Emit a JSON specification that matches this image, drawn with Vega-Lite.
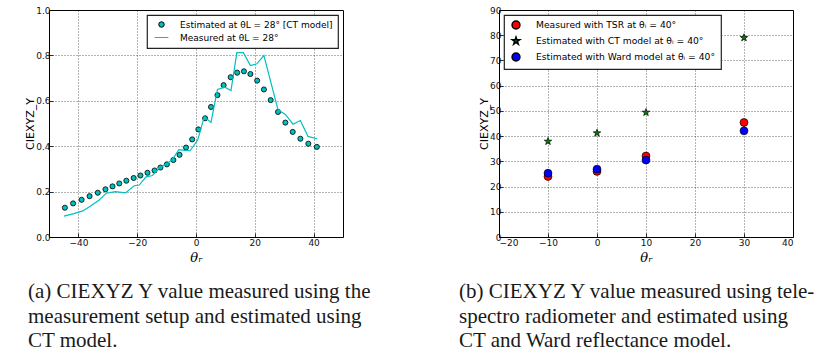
{
  "$schema": "https://vega.github.io/schema/vega-lite/v6.json",
  "padding": {"left": 24, "top": 5, "right": 0, "bottom": 0},
  "background": "white",
  "config": {
    "view": {"stroke": "#000", "strokeWidth": 1},
    "axis": {
      "domain": false,
      "grid": true,
      "gridColor": "#000",
      "gridDash": [1, 2],
      "gridWidth": 0.7,
      "gridOpacity": 0.85,
      "tickColor": "#000",
      "tickSize": -4,
      "tickWidth": 0.8,
      "labelFont": "DejaVu Sans",
      "labelFontSize": 9,
      "labelColor": "#111",
      "titleFont": "DejaVu Sans",
      "titleFontWeight": "normal",
      "titleColor": "#000"
    },
    "axisX": {"labelPadding": 5, "titleFont": "DejaVu Serif", "titleFontStyle": "italic", "titleFontSize": 13, "titlePadding": 4},
    "axisY": {"labelPadding": 3, "titleFontSize": 11, "titlePadding": 0},
    "legend": {
      "title": null,
      "strokeColor": "#222",
      "strokeWidth": 1.2,
      "fillColor": "#fff",
      "padding": 5,
      "cornerRadius": 0,
      "offset": 5,
      "labelFont": "DejaVu Sans",
      "labelFontSize": 9,
      "labelColor": "#000",
      "labelLimit": 400,
      "rowPadding": 3
    },
    "title": {
      "font": "Liberation Serif",
      "fontSize": 21,
      "fontWeight": "normal",
      "color": "#1a1a1a",
      "lineHeight": 24.5,
      "orient": "bottom",
      "anchor": "start",
      "frame": "group",
      "dx": -21,
      "offset": 17
    }
  },
  "datasets": {
    "estimated_ct": [
      {"theta_r": -44.6, "Y": 0.129, "series": "Estimated at θL = 28° [CT model]"},
      {"theta_r": -41.8, "Y": 0.148, "series": "Estimated at θL = 28° [CT model]"},
      {"theta_r": -38.9, "Y": 0.164, "series": "Estimated at θL = 28° [CT model]"},
      {"theta_r": -36.2, "Y": 0.180, "series": "Estimated at θL = 28° [CT model]"},
      {"theta_r": -33.4, "Y": 0.195, "series": "Estimated at θL = 28° [CT model]"},
      {"theta_r": -30.8, "Y": 0.210, "series": "Estimated at θL = 28° [CT model]"},
      {"theta_r": -28.4, "Y": 0.223, "series": "Estimated at θL = 28° [CT model]"},
      {"theta_r": -26.1, "Y": 0.236, "series": "Estimated at θL = 28° [CT model]"},
      {"theta_r": -23.7, "Y": 0.248, "series": "Estimated at θL = 28° [CT model]"},
      {"theta_r": -21.2, "Y": 0.260, "series": "Estimated at θL = 28° [CT model]"},
      {"theta_r": -18.9, "Y": 0.271, "series": "Estimated at θL = 28° [CT model]"},
      {"theta_r": -16.5, "Y": 0.283, "series": "Estimated at θL = 28° [CT model]"},
      {"theta_r": -14.1, "Y": 0.293, "series": "Estimated at θL = 28° [CT model]"},
      {"theta_r": -12.1, "Y": 0.306, "series": "Estimated at θL = 28° [CT model]"},
      {"theta_r": -9.9, "Y": 0.320, "series": "Estimated at θL = 28° [CT model]"},
      {"theta_r": -7.7, "Y": 0.339, "series": "Estimated at θL = 28° [CT model]"},
      {"theta_r": -5.6, "Y": 0.362, "series": "Estimated at θL = 28° [CT model]"},
      {"theta_r": -3.4, "Y": 0.394, "series": "Estimated at θL = 28° [CT model]"},
      {"theta_r": -1.3, "Y": 0.430, "series": "Estimated at θL = 28° [CT model]"},
      {"theta_r": 0.8, "Y": 0.474, "series": "Estimated at θL = 28° [CT model]"},
      {"theta_r": 3.1, "Y": 0.523, "series": "Estimated at θL = 28° [CT model]"},
      {"theta_r": 5.1, "Y": 0.573, "series": "Estimated at θL = 28° [CT model]"},
      {"theta_r": 7.3, "Y": 0.625, "series": "Estimated at θL = 28° [CT model]"},
      {"theta_r": 9.4, "Y": 0.669, "series": "Estimated at θL = 28° [CT model]"},
      {"theta_r": 11.8, "Y": 0.704, "series": "Estimated at θL = 28° [CT model]"},
      {"theta_r": 14.0, "Y": 0.724, "series": "Estimated at θL = 28° [CT model]"},
      {"theta_r": 16.3, "Y": 0.730, "series": "Estimated at θL = 28° [CT model]"},
      {"theta_r": 18.5, "Y": 0.718, "series": "Estimated at θL = 28° [CT model]"},
      {"theta_r": 20.8, "Y": 0.689, "series": "Estimated at θL = 28° [CT model]"},
      {"theta_r": 23.1, "Y": 0.650, "series": "Estimated at θL = 28° [CT model]"},
      {"theta_r": 25.4, "Y": 0.603, "series": "Estimated at θL = 28° [CT model]"},
      {"theta_r": 27.9, "Y": 0.551, "series": "Estimated at θL = 28° [CT model]"},
      {"theta_r": 30.4, "Y": 0.504, "series": "Estimated at θL = 28° [CT model]"},
      {"theta_r": 32.9, "Y": 0.463, "series": "Estimated at θL = 28° [CT model]"},
      {"theta_r": 35.5, "Y": 0.433, "series": "Estimated at θL = 28° [CT model]"},
      {"theta_r": 38.2, "Y": 0.411, "series": "Estimated at θL = 28° [CT model]"},
      {"theta_r": 41.1, "Y": 0.397, "series": "Estimated at θL = 28° [CT model]"}
    ],
    "measured_setup": [
      {"theta_r": -44.9, "Y": 0.092, "series": "Measured at θL = 28°"},
      {"theta_r": -41.5, "Y": 0.103, "series": "Measured at θL = 28°"},
      {"theta_r": -38.5, "Y": 0.115, "series": "Measured at θL = 28°"},
      {"theta_r": -36.0, "Y": 0.135, "series": "Measured at θL = 28°"},
      {"theta_r": -33.0, "Y": 0.162, "series": "Measured at θL = 28°"},
      {"theta_r": -30.5, "Y": 0.193, "series": "Measured at θL = 28°"},
      {"theta_r": -27.5, "Y": 0.200, "series": "Measured at θL = 28°"},
      {"theta_r": -24.0, "Y": 0.194, "series": "Measured at θL = 28°"},
      {"theta_r": -21.0, "Y": 0.226, "series": "Measured at θL = 28°"},
      {"theta_r": -19.3, "Y": 0.229, "series": "Measured at θL = 28°"},
      {"theta_r": -17.0, "Y": 0.265, "series": "Measured at θL = 28°"},
      {"theta_r": -14.8, "Y": 0.271, "series": "Measured at θL = 28°"},
      {"theta_r": -12.5, "Y": 0.305, "series": "Measured at θL = 28°"},
      {"theta_r": -10.2, "Y": 0.320, "series": "Measured at θL = 28°"},
      {"theta_r": -8.0, "Y": 0.342, "series": "Measured at θL = 28°"},
      {"theta_r": -5.8, "Y": 0.385, "series": "Measured at θL = 28°"},
      {"theta_r": -4.0, "Y": 0.382, "series": "Measured at θL = 28°"},
      {"theta_r": -2.0, "Y": 0.380, "series": "Measured at θL = 28°"},
      {"theta_r": 0.6, "Y": 0.428, "series": "Measured at θL = 28°"},
      {"theta_r": 2.8, "Y": 0.530, "series": "Measured at θL = 28°"},
      {"theta_r": 5.1, "Y": 0.505, "series": "Measured at θL = 28°"},
      {"theta_r": 7.3, "Y": 0.650, "series": "Measured at θL = 28°"},
      {"theta_r": 9.8, "Y": 0.660, "series": "Measured at θL = 28°"},
      {"theta_r": 11.9, "Y": 0.645, "series": "Measured at θL = 28°"},
      {"theta_r": 13.9, "Y": 0.812, "series": "Measured at θL = 28°"},
      {"theta_r": 16.1, "Y": 0.812, "series": "Measured at θL = 28°"},
      {"theta_r": 18.5, "Y": 0.755, "series": "Measured at θL = 28°"},
      {"theta_r": 20.7, "Y": 0.763, "series": "Measured at θL = 28°"},
      {"theta_r": 23.1, "Y": 0.799, "series": "Measured at θL = 28°"},
      {"theta_r": 27.9, "Y": 0.560, "series": "Measured at θL = 28°"},
      {"theta_r": 30.4, "Y": 0.540, "series": "Measured at θL = 28°"},
      {"theta_r": 33.0, "Y": 0.497, "series": "Measured at θL = 28°"},
      {"theta_r": 35.5, "Y": 0.513, "series": "Measured at θL = 28°"},
      {"theta_r": 38.1, "Y": 0.443, "series": "Measured at θL = 28°"},
      {"theta_r": 41.2, "Y": 0.433, "series": "Measured at θL = 28°"}
    ],
    "tsr_models": [
      {"theta_r": -10, "Y": 24.0, "series": "Measured with TSR at θᵢ = 40°"},
      {"theta_r": 0, "Y": 26.0, "series": "Measured with TSR at θᵢ = 40°"},
      {"theta_r": 10, "Y": 32.1, "series": "Measured with TSR at θᵢ = 40°"},
      {"theta_r": 30, "Y": 45.4, "series": "Measured with TSR at θᵢ = 40°"},
      {"theta_r": -10, "Y": 37.9, "series": "Estimated with CT model at θᵢ = 40°"},
      {"theta_r": 0, "Y": 41.2, "series": "Estimated with CT model at θᵢ = 40°"},
      {"theta_r": 10, "Y": 49.4, "series": "Estimated with CT model at θᵢ = 40°"},
      {"theta_r": 30, "Y": 79.0, "series": "Estimated with CT model at θᵢ = 40°"},
      {"theta_r": -10, "Y": 25.3, "series": "Estimated with Ward model at θᵢ = 40°"},
      {"theta_r": 0, "Y": 26.9, "series": "Estimated with Ward model at θᵢ = 40°"},
      {"theta_r": 10, "Y": 30.5, "series": "Estimated with Ward model at θᵢ = 40°"},
      {"theta_r": 30, "Y": 42.1, "series": "Estimated with Ward model at θᵢ = 40°"}
    ]
  },
  "spacing": 85,
  "resolve": {"scale": {"color": "independent", "shape": "independent", "fill": "independent", "stroke": "independent"}, "legend": {"color": "independent", "shape": "independent", "fill": "independent", "stroke": "independent"}},
  "hconcat": [
    {
      "width": 294,
      "height": 227,
      "title": {"text": ["(a) CIEXYZ Y value measured using the", "measurement setup and estimated using", "CT model."]},
      "layer": [
        {
          "data": {"name": "estimated_ct"},
          "mark": {"type": "point", "filled": true, "opacity": 1, "size": 26, "strokeWidth": 0.8},
          "encoding": {
            "x": {"field": "theta_r", "type": "quantitative", "scale": {"domain": [-50, 50], "nice": false}, "axis": {"values": [-40, -20, 0, 20, 40], "format": "d", "title": "θᵣ"}},
            "y": {"field": "Y", "type": "quantitative", "scale": {"domain": [0, 1], "nice": false}, "axis": {"values": [0, 0.2, 0.4, 0.6, 0.8, 1.0], "format": ".1f", "title": "CIEXYZ_Y"}},
            "fill": {"field": "series", "type": "nominal", "scale": {"domain": ["Estimated at θL = 28° [CT model]", "Measured at θL = 28°"], "range": ["#00bfbf", "transparent"]}, "legend": {"orient": "top-right", "symbolSize": 30, "labelOffset": 14, "symbolOffset": 5, "symbolStrokeWidth": 1}},
            "stroke": {"field": "series", "type": "nominal", "scale": {"domain": ["Estimated at θL = 28° [CT model]", "Measured at θL = 28°"], "range": ["#000000", "#00bfbf"]}, "legend": {"orient": "top-right", "symbolSize": 30, "labelOffset": 14, "symbolOffset": 5, "symbolStrokeWidth": 1}},
            "shape": {"field": "series", "type": "nominal", "scale": {"domain": ["Estimated at θL = 28° [CT model]", "Measured at θL = 28°"], "range": ["circle", "M-2.5,0L2.5,0"]}, "legend": {"orient": "top-right", "symbolSize": 30, "labelOffset": 14, "symbolOffset": 5, "symbolStrokeWidth": 1}}
          }
        },
        {
          "data": {"name": "measured_setup"},
          "mark": {"type": "line", "strokeWidth": 1.2},
          "encoding": {
            "x": {"field": "theta_r", "type": "quantitative"},
            "y": {"field": "Y", "type": "quantitative"},
            "stroke": {"field": "series", "type": "nominal"}
          }
        }
      ]
    },
    {
      "width": 294,
      "height": 227,
      "title": {"text": ["(b) CIEXYZ Y value measured using tele-", "spectro radiometer and estimated using", "CT and Ward reflectance model."], "dx": -40},
      "data": {"name": "tsr_models"},
      "mark": {"type": "point", "filled": true, "opacity": 1, "size": 62, "stroke": "#000", "strokeWidth": 0.7},
      "encoding": {
        "x": {"field": "theta_r", "type": "quantitative", "scale": {"domain": [-20, 40], "nice": false}, "axis": {"values": [-20, -10, 0, 10, 20, 30, 40], "format": "d", "title": "θᵣ"}},
        "y": {"field": "Y", "type": "quantitative", "scale": {"domain": [0, 90], "nice": false}, "axis": {"values": [0, 10, 20, 30, 40, 50, 60, 70, 80, 90], "format": "d", "title": "CIEXYZ_Y", "labelPadding": 2}},
        "color": {
          "field": "series", "type": "nominal",
          "scale": {"domain": ["Measured with TSR at θᵢ = 40°", "Estimated with CT model at θᵢ = 40°", "Estimated with Ward model at θᵢ = 40°"], "range": ["#ff0000", "#007f00", "#0000ff"]},
          "legend": {
            "orient": "top-left",
            "symbolSize": 62,
            "symbolOffset": 2,
            "labelOffset": 15,
            "labelFontSize": 9.2,
            "rowPadding": 2,
            "encode": {"symbols": {"update": {"stroke": {"value": "#000"}, "strokeWidth": {"value": 0.7}, "opacity": {"value": 1}}}}
          }
        },
        "shape": {
          "field": "series", "type": "nominal",
          "scale": {"domain": ["Measured with TSR at θᵢ = 40°", "Estimated with CT model at θᵢ = 40°", "Estimated with Ward model at θᵢ = 40°"], "range": ["circle", "M0,-1L0.2245,-0.309L0.951,-0.309L0.363,0.118L0.588,0.809L0,0.382L-0.588,0.809L-0.363,0.118L-0.951,-0.309L-0.2245,-0.309Z", "circle"]},
          "legend": {
            "orient": "top-left",
            "symbolSize": 62,
            "symbolOffset": 2,
            "labelOffset": 15,
            "labelFontSize": 9.2,
            "rowPadding": 2
          }
        }
      }
    }
  ]
}
